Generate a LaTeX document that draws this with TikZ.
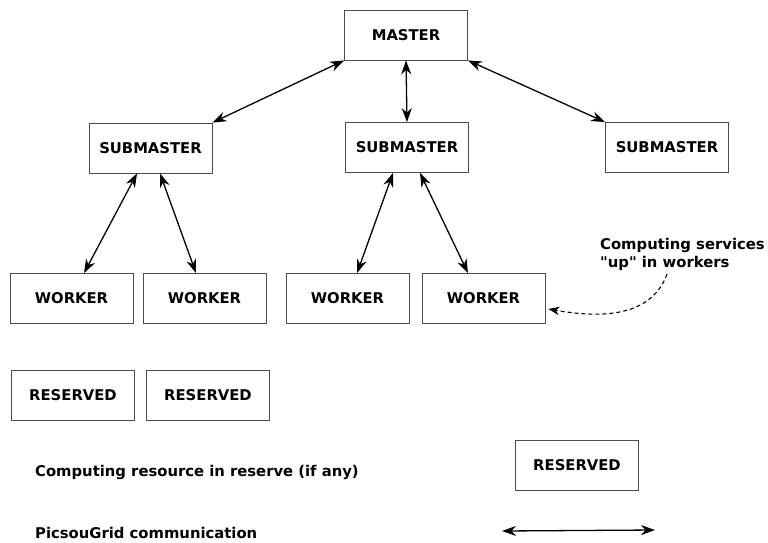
\documentclass[tikz,border=0pt]{standalone}
\usepackage{fontspec}
\setmainfont{DejaVu Sans}
\usetikzlibrary{arrows.meta}

\begin{document}
\begin{tikzpicture}[x=1pt, y=-1pt,
                    every node/.style={font=\bfseries\fontsize{14.8}{18.5}\selectfont},
                    block/.style={rectangle, draw=black!70, line width=0.8pt, fill=white, minimum width=123pt, minimum height=50pt, inner sep=4pt},
                    link/.style={{Stealth[length=14pt,width=10pt,inset=4.5pt]}-{Stealth[length=14pt,width=10pt,inset=4.5pt]}, line width=1.3pt},
                    notetext/.style={inner sep=0pt, anchor=west},
                    node distance=133pt,
                    align=center,
                ]
                \useasboundingbox (0,0) rectangle (768,542);

                \node[block] (master) at (406,35) {MASTER};
                \node[block] (subleft) at (150.5,148) {SUBMASTER};
                \node[block] (submid) at (407,147.5) {SUBMASTER};
                \node[block] (subright) at (667,147.5) {SUBMASTER};
                \node[block] (worker1) at (71.5,298.5) {WORKER};
                \node[block] (worker2) [right of=worker1] {WORKER};
                \node[block] (worker3) [right of=worker2, xshift=10pt] {WORKER};
                \node[block] (worker4) [right of=worker3, xshift=3pt] {WORKER};
                \node[block] (reserved1) at (73,395) {RESERVED};
                \node[block] (reserved2) [right of=reserved1, xshift=2pt] {RESERVED};

                % legend
                \node[notetext] (legendres) at (35,472) {Computing resource in reserve (if any)};
                \node[block] (legendbox) at (577,465.5) {RESERVED};
                \node[notetext] (legendcomm) at (35,533) {PicsouGrid communication};
                \coordinate (commleft) at (502,531);
                \coordinate (commright) at (655,530);

                \node[notetext, align=left] (note) at (600,254.5) {Computing services\\\textquotedbl up\textquotedbl{} in workers};

                \draw[link] (master.south west) -- (subleft.north east);
                \draw[link] (master.south) -- (submid.north);
                \draw[link] (master.south east) -- (subright.north west);
                \draw[link] ([xshift=-13.5pt]subleft.south) -- ([xshift=12.5pt]worker1.north);
                \draw[link] ([xshift=9.5pt]subleft.south) -- ([xshift=-8.5pt]worker2.north);
                \draw[link] ([xshift=-14pt]submid.south) -- ([xshift=9.5pt]worker3.north);
                \draw[link] ([xshift=13pt]submid.south) -- ([xshift=-15.5pt]worker4.north);
                \draw[link] (commleft) -- (commright);

                \draw[-{Stealth[length=11pt,width=8.5pt,inset=3.5pt]}, line width=1.1pt, dash pattern=on 4pt off 3pt]
                    ([xshift=67pt,yshift=-3pt]note.south west) to[out=-110, in=-10] ([xshift=3pt,yshift=-10.5pt]worker4.east);
            \end{tikzpicture}
\end{document}
